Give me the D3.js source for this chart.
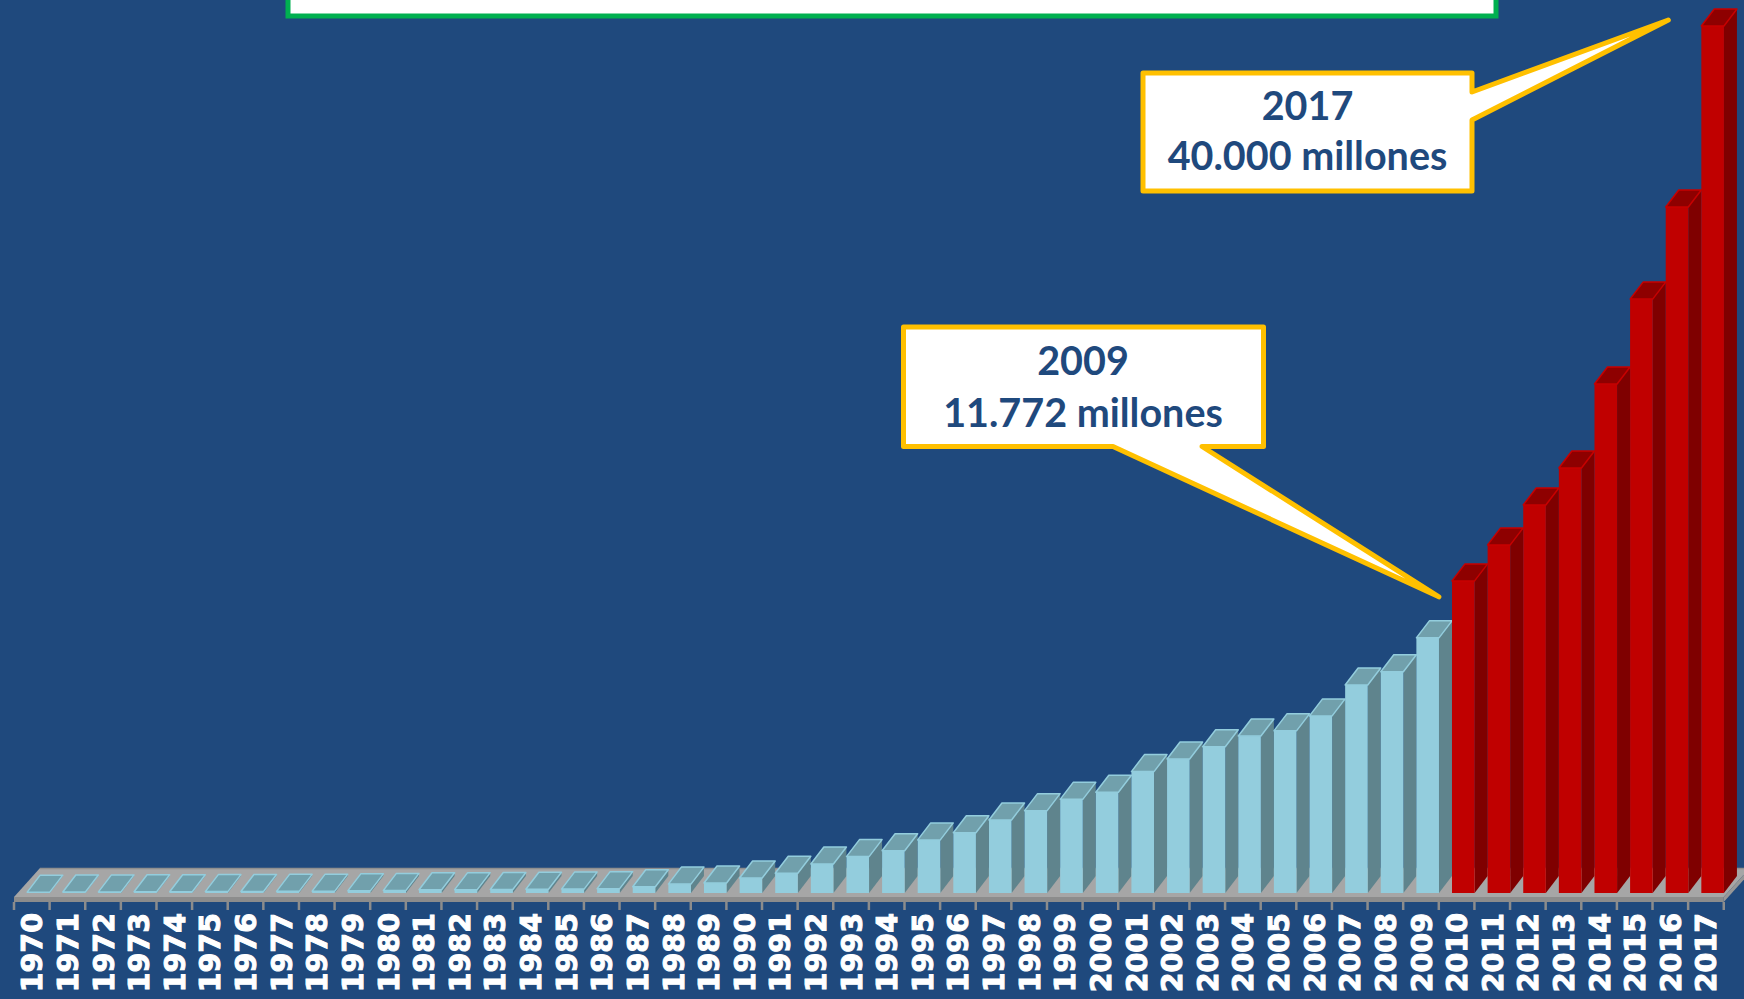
<!DOCTYPE html>
<html>
<head>
<meta charset="utf-8">
<script src="https://cdn.jsdelivr.net/npm/d3@7"></script>
<style>
  html, body { margin: 0; padding: 0; background: #1F497D; }
  svg { display: block; }
</style>
</head>
<body>
<svg id="chart" width="1744" height="999"></svg>
<script>
// ---------------- DATA ----------------
const categories = ["1970","1971","1972","1973","1974","1975","1976","1977","1978","1979",
  "1980","1981","1982","1983","1984","1985","1986","1987","1988","1989",
  "1990","1991","1992","1993","1994","1995","1996","1997","1998","1999",
  "2000","2001","2002","2003","2004","2005","2006","2007","2008","2009",
  "2010","2011","2012","2013","2014","2015","2016","2017"];
// millones
const values = [40, 45, 50, 55, 60, 65, 70, 75, 85, 100,
  120, 150, 155, 160, 170, 180, 200, 290, 410, 460,
  690, 910, 1340, 1680, 1950, 2450, 2780, 3370, 3800, 4320,
  4650, 5600, 6180, 6750, 7240, 7480, 8170, 9600, 10210, 11772,
  14400, 16060, 17900, 19610, 23480, 27400, 31650, 40000];
const projectedFrom = "2010";
const callouts = [
  { year: "2009", lines: ["2009", "11.772 millones"] },
  { year: "2017", lines: ["2017", "40.000 millones"] }
];

// ---------------- LAYOUT ----------------
const W = 1744, H = 999;
const baseY = 893;          // front bottom of bars
const floorFront = 897, floorBack = 868, floorDx = 26, floorThick = 5;
const depthX = 13, depthY = 17;
const frontOffset = 13.2, frontWidth = 22.6;

const svg = d3.select("#chart");
svg.append("rect").attr("width", W).attr("height", H).attr("fill", "#1F497D");

const x = d3.scaleBand().domain(categories).range([14, 14 + 48 * 35.62]).paddingInner(0).paddingOuter(0);
const y = d3.scaleLinear().domain([0, 40000]).range([baseY, 26]);

const xL = x.range()[0], xR = x.range()[1];

// ---------------- FLOOR ----------------
const floor = svg.append("g");
floor.append("path")
  .attr("d", `M${xL},${floorFront} L${xL + floorDx},${floorBack} L${xR + floorDx},${floorBack} L${xR},${floorFront} Z`)
  .attr("fill", "#A6A6A6");
floor.append("path")
  .attr("d", `M${xL},${floorFront} L${xR},${floorFront} L${xR},${floorFront + floorThick} L${xL},${floorFront + floorThick} Z`)
  .attr("fill", "#8C8C8C");
floor.append("path")
  .attr("d", `M${xR},${floorFront} L${xR + floorDx},${floorBack} L${xR + floorDx},${floorBack + floorThick} L${xR},${floorFront + floorThick} Z`)
  .attr("fill", "#979797");
floor.append("line")
  .attr("x1", xL + floorDx).attr("x2", xR + floorDx)
  .attr("y1", floorBack + 0.5).attr("y2", floorBack + 0.5)
  .attr("stroke", "#8F8F8F").attr("stroke-width", 1.5);

// ticks at band edges
const tickXs = categories.map(c => x(c)).concat([xR]);
floor.selectAll("line.tick")
  .data(tickXs).join("line")
  .attr("class", "tick")
  .attr("x1", d => d).attr("x2", d => d)
  .attr("y1", floorFront + floorThick).attr("y2", floorFront + floorThick + 8)
  .attr("stroke", "#8C8C8C").attr("stroke-width", 2.5);

// ---------------- BARS ----------------
const colors = {
  hist: { front: "#93CDDD", side: "#5F848D", top: "#71A0AC", edge: "#93CDDD" },
  proj: { front: "#C00000", side: "#7F0000", top: "#8E0000", edge: "#C80000" }
};
const data = categories.map((c, i) => ({ cat: c, value: values[i], proj: c >= projectedFrom }));

const bars = svg.append("g").selectAll("g.bar").data(data).join("g").attr("class", "bar");
bars.each(function (d) {
  const g = d3.select(this);
  const col = d.proj ? colors.proj : colors.hist;
  const xl = x(d.cat) + frontOffset, xr = xl + frontWidth;
  const yt = y(d.value), yb = y(0);
  // side
  g.append("path")
    .attr("d", `M${xr},${yt} L${xr + depthX},${yt - depthY} L${xr + depthX},${yb - depthY} L${xr},${yb} Z`)
    .attr("fill", col.side);
  // front
  g.append("rect")
    .attr("x", xl).attr("y", yt).attr("width", frontWidth).attr("height", Math.max(0, yb - yt))
    .attr("fill", col.front);
  // top
  g.append("path")
    .attr("d", `M${xl},${yt} L${xl + depthX},${yt - depthY} L${xr + depthX},${yt - depthY} L${xr},${yt} Z`)
    .attr("fill", col.top).attr("stroke", col.edge).attr("stroke-width", 1.5).attr("stroke-linejoin", "round");
});

// ---------------- X AXIS LABELS ----------------
const axis = d3.axisBottom(x).tickSize(0).tickPadding(0);
const axG = svg.append("g").attr("transform", `translate(0, 913)`).call(axis);
axG.select(".domain").remove();
axG.selectAll("text")
  .attr("transform", "rotate(-90)")
  .attr("x", 0).attr("y", 0).attr("dy", "0.37em")
  .attr("text-anchor", "end")
  .attr("fill", "#FFFFFF")
  .attr("stroke", "#FFFFFF").attr("stroke-width", 1)
  .style("font-family", "'DejaVu Sans', Verdana, sans-serif")
  .style("font-weight", "bold")
  .style("font-size", "28.5px");

// ---------------- TITLE BOX (cut off at top) ----------------
svg.append("rect")
  .attr("x", 288).attr("y", -40).attr("width", 1208).attr("height", 56)
  .attr("fill", "#FFFFFF").attr("stroke", "#00B050").attr("stroke-width", 5);

// ---------------- CALLOUTS ----------------
const byCat = new Map(data.map(d => [d.cat, d]));
const calloutLayout = {
  "2009": { x0: 903.5, x1: 1263.5, y0: 327, y1: 446.5, side: "bottom", a: 1113, b: 1202, tipDx: 22.5, tipDy: -41, cx: 1083, base1: 375, base2: 427 },
  "2017": { x0: 1143, x1: 1472, y0: 73, y1: 191, side: "right", a: 92, b: 120, tipDx: -33, tipDy: -6, cx: 1307.5, base1: 120, base2: 170 }
};
callouts.forEach(co => {
  const L = calloutLayout[co.year];
  const d = byCat.get(co.year);
  const tx = x(d.cat) + frontOffset + L.tipDx;
  const ty = y(d.value) + L.tipDy;
  let p;
  if (L.side === "bottom") {
    p = `M${L.x0},${L.y0} L${L.x1},${L.y0} L${L.x1},${L.y1} L${L.b},${L.y1} L${tx},${ty} L${L.a},${L.y1} L${L.x0},${L.y1} Z`;
  } else {
    p = `M${L.x0},${L.y0} L${L.x1},${L.y0} L${L.x1},${L.a} L${tx},${ty} L${L.x1},${L.b} L${L.x1},${L.y1} L${L.x0},${L.y1} Z`;
  }
  const g = svg.append("g");
  g.append("path").attr("d", p)
    .attr("fill", "#FFFFFF").attr("stroke", "#FFC000").attr("stroke-width", 5).attr("stroke-linejoin", "round");
  g.append("text").attr("x", L.cx).attr("y", L.base1).attr("text-anchor", "middle")
    .attr("fill", "#1F497D").style("font-family", "Lato, 'Open Sans', sans-serif")
    .style("font-weight", "bold").style("font-size", "39.5px").text(co.lines[0]);
  g.append("text").attr("x", L.cx).attr("y", L.base2).attr("text-anchor", "middle")
    .attr("fill", "#1F497D").style("font-family", "Lato, 'Open Sans', sans-serif")
    .style("font-weight", "bold").style("font-size", "39.5px").text(co.lines[1]);
});
</script>
</body>
</html>
